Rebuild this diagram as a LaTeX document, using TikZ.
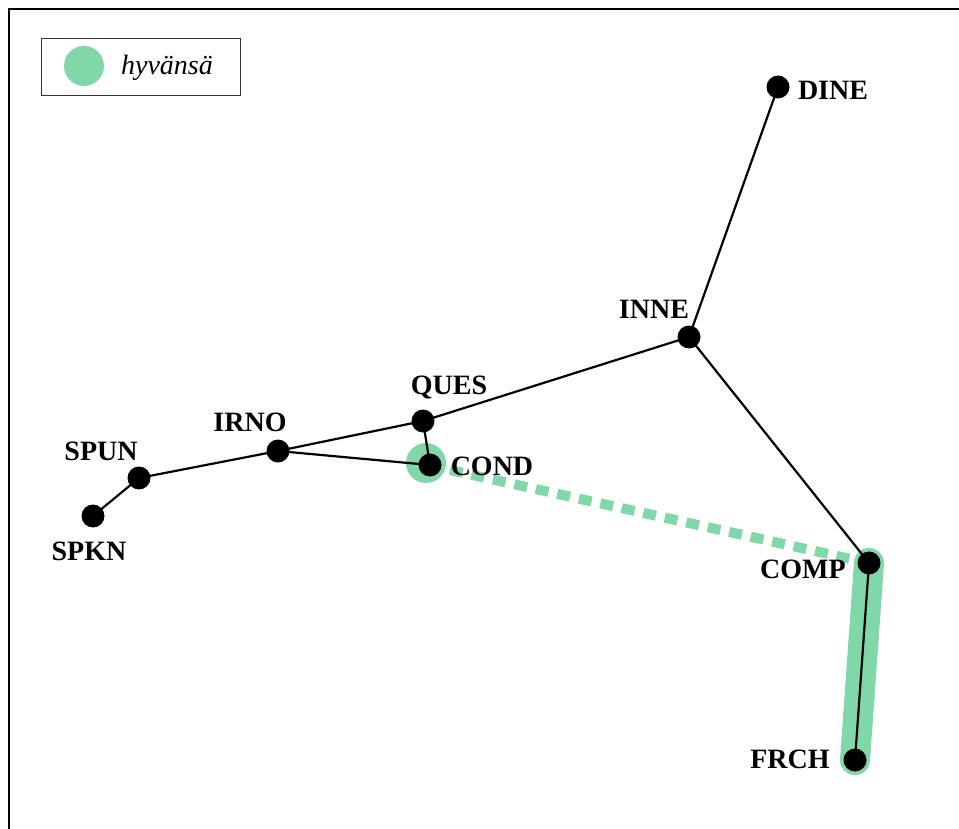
\documentclass[tikz,border=0pt]{standalone}
\usepackage{fontspec}
\setmainfont{Liberation Serif}
\begin{document}
\begin{tikzpicture}[x=1pt,y=-1pt,
  dot/.style={circle,fill=black,inner sep=0pt,minimum size=23pt},
  lbl/.style={font=\fontsize{28}{30}\selectfont\bfseries,inner sep=0pt},
  edge/.style={line width=2.2pt,black},
  hl/.style={draw=hlgreen,line cap=round,line width=30pt}]
\definecolor{hlgreen}{RGB}{128,216,168}
\useasboundingbox (0,0) rectangle (959,829);
% outer frame
\draw[line width=2pt] (9,860) -- (9,9) -- (990,9);
% legend
\draw[line width=0.8pt,black!80] (41,38) rectangle (240,95);
\node[circle,fill=hlgreen,minimum size=40pt,inner sep=0pt] (legdot) at (84,66) {};
\node[font=\fontsize{28}{30}\selectfont\itshape,inner sep=0pt] (legtxt) at (167,68) {hyvänsä};
% node positions
\coordinate (pDINE) at (778,87);
\coordinate (pINNE) at (689,337);
\coordinate (pQUES) at (423,421);
\coordinate (pCOND) at (430,465);
\coordinate (pIRNO) at (278,451);
\coordinate (pSPUN) at (139,478);
\coordinate (pSPKN) at (93,516);
\coordinate (pCOMP) at (869,563);
\coordinate (pFRCH) at (855,760);
% highlights
\fill[hlgreen] (426,463) circle (20);
\draw[hlgreen,line width=10pt,dash pattern=on 13pt off 9pt] (pCOND) ++(20,5) -- (pCOMP);
\draw[hl] (pCOMP) -- (pFRCH);
% connectors
\draw[edge] (pDINE) -- (pINNE);
\draw[edge] (pINNE) -- (pQUES);
\draw[edge] (pINNE) -- (pCOMP);
\draw[edge] (pQUES) -- (pIRNO);
\draw[edge] (pQUES) -- (pCOND);
\draw[edge] (pIRNO) -- (pCOND);
\draw[edge] (pIRNO) -- (pSPUN);
\draw[edge] (pSPUN) -- (pSPKN);
\draw[edge] (pCOMP) -- (pFRCH);
% nodes
\node[dot] (DINE) at (pDINE) {};
\node[dot] (INNE) at (pINNE) {};
\node[dot] (QUES) at (pQUES) {};
\node[dot] (COND) at (pCOND) {};
\node[dot] (IRNO) at (pIRNO) {};
\node[dot] (SPUN) at (pSPUN) {};
\node[dot] (SPKN) at (pSPKN) {};
\node[dot] (COMP) at (pCOMP) {};
\node[dot] (FRCH) at (pFRCH) {};
% labels
\node[lbl] (tDINE) at (833,90) {DINE};
\node[lbl] (tINNE) at (654,309) {INNE};
\node[lbl] (tQUES) at (449,387) {QUES};
\node[lbl] (tCOND) at (492,466) {COND};
\node[lbl] (tIRNO) at (250,422) {IRNO};
\node[lbl] (tSPUN) at (101,451) {SPUN};
\node[lbl] (tSPKN) at (89,551) {SPKN};
\node[lbl] (tCOMP) at (803,569) {COMP};
\node[lbl] (tFRCH) at (790,759) {FRCH};
\end{tikzpicture}
\end{document}
